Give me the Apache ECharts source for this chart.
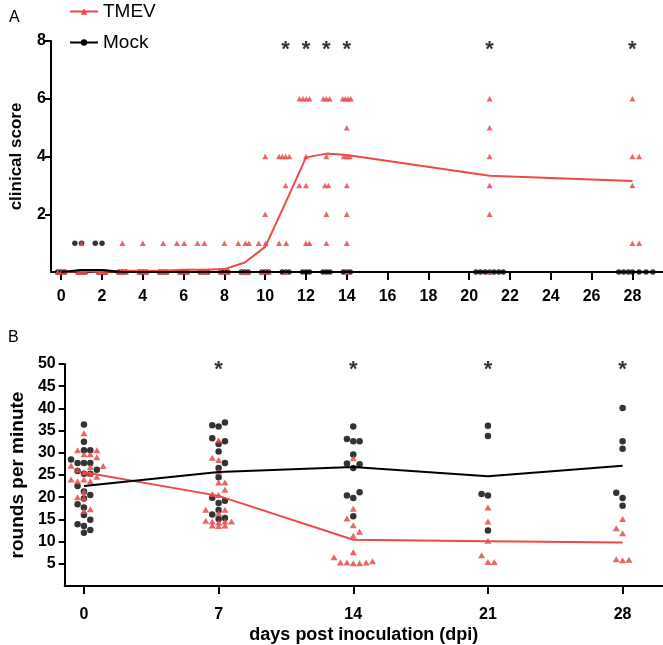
<!DOCTYPE html>
<html><head><meta charset="utf-8">
<script src="https://cdn.jsdelivr.net/npm/echarts@6/dist/echarts.min.js"></script>
<style>html,body{margin:0;padding:0;background:#fff}#c{width:663px;height:645px}</style>
</head><body><div id="c"></div>
<script>
// ---------- Panel A: clinical score ----------
const clinicalDays = [0,1,2,3,4,5,6,7,8,9,10,11,12,13,14,21,28];
const tmevClinicalMean = [0,0.03,0,0.04,0.04,0.04,0.08,0.08,0.1,0.33,0.87,2.4,3.97,4.1,4.05,3.33,3.15];
const mockClinicalMean = [0,0.07,0.07,0,0,0,0,0,0,0,0,0,0,0,0,0,0];
const clinicalTicksX = [0,2,4,6,8,10,12,14,16,18,20,22,24,26,28];
const clinicalTicksY = [2,4,6,8];
const clinicalSigDays = [11,12,13,14,21,28];
const tmevClinicalPoints = [
  [-0.17,0],[0,0],[0.17,0],[0.83,0],[1,0],[1.17,0],[1.83,0],[2,0],[2.17,0],[2.83,0],[3,0],[3.17,0],
  [3.83,0],[4,0],[4.17,0],[4.83,0],[5,0],[5.17,0],[5.83,0],[6,0],[6.17,0],[6.83,0],[7,0],[7.17,0],
  [7.83,0],[8,0],[8.17,0],[8.83,0],[9,0],[9.17,0],[9.83,0],[10,0],[10.17,0],[11,0],[14,0],[21,0],
  [1,1],[3,1],[4,1],[5,1],[5.67,1],[6.03,1],[6.68,1],[7.02,1],[8,1],[8.68,1],[9.03,1],[9.2,1],[9.68,1],
  [10.02,1],[10.68,1],[11.03,1],[12,1],[12.17,1],[13,1],[14,1],[28,1],[28.33,1],
  [10,2],[13,2],[14,2],[21,2],
  [11,3],[11.67,3],[12,3],[12.93,3],[13.1,3],[14,3],[21,3],[28,3],
  [10,4],[10.68,4],[10.84,4],[11,4],[11.18,4],[12,4],[13,4],[13.85,4],[14,4],[14.15,4],[21,4],[28,4],[28.33,4],
  [14,5],[21,5],
  [11.68,6],[11.85,6],[12.01,6],[12.17,6],[12.85,6],[13,6],[13.16,6],[13.8,6],[13.93,6],[14.07,6],[14.2,6],[21,6],[28,6]
];
const mockClinicalPoints = [
  [-0.17,0],[0,0],[0.17,0],[0.83,0],[1,0],[1.17,0],[1.83,0],[2,0],[2.17,0],[2.83,0],[3,0],[3.17,0],
  [3.83,0],[4,0],[4.17,0],[4.83,0],[5,0],[5.17,0],[5.83,0],[6,0],[6.17,0],[6.83,0],[7,0],[7.17,0],
  [7.83,0],[8,0],[8.17,0],[8.83,0],[9,0],[9.17,0],[9.83,0],[10,0],[10.17,0],[10.83,0],[11,0],[11.17,0],
  [11.83,0],[12,0],[12.17,0],[12.83,0],[13,0],[13.17,0],[13.83,0],[14,0],[14.17,0],
  [20.33,0],[20.55,0],[20.78,0],[21,0],[21.22,0],[21.45,0],[21.67,0],
  [27.33,0],[27.57,0],[27.8,0],[28,0],[28.33,0],[28.67,0],[29,0],
  [0.67,1],[1,1],[1.67,1],[2,1]
];

// ---------- Panel B: rounds per minute ----------
const rotarodDays = [0,7,14,21,28];
const tmevRotarodMean = [25.6,20.3,10.4,10.1,9.8];
const mockRotarodMean = [22.5,25.7,26.8,24.7,27.1];
const rotarodTicksY = [5,10,15,20,25,30,35,40,45,50];
const rotarodSigDays = [7,14,21,28];
const tmevRotarodPoints = [
  [0,34.4],[-0.33,30.6],[0.67,30.6],[0,29.7],[0.33,29.7],[0.67,29.0],[-0.67,27.1],[0.33,26.8],[1.0,27.0],
  [-0.33,26.2],[0,25.6],[0.33,25.2],[-0.67,24.0],[-0.33,23.6],[0,24.0],[0.33,23.6],[0.67,24.6],
  [-0.33,20.0],[0,21.3],[0,19.8],[0.33,17.3],[0,16.9],
  [7,32.8],[6.67,28.9],[7,28.4],[7,25.8],[7,23.3],[7.33,23.3],[7.33,21.7],[6.67,20.7],[7,20.5],
  [6.33,17.2],[7.33,17.2],[7,16.4],[6.33,14.7],[6.67,14.5],[7,14.3],[7.33,14.5],[7.67,14.5],
  [6.67,13.6],[7,13.5],[7.33,13.6],
  [14,28.8],[14,17.4],[13.67,15.2],[14,13.7],[14.33,12.2],[14,11.3],[14,7.6],[13,6.5],
  [13.33,5.3],[13.67,5.3],[14,5.1],[14.33,5.1],[14.67,5.3],[15,5.6],
  [21,17.7],[21,14.5],[21,10.2],[20.67,6.9],[21,5.4],[21.33,5.4],
  [28,15.1],[27.67,13.0],[28,11.9],[27.67,6.0],[28,5.8],[28.33,5.9]
];
const mockRotarodPoints = [
  [0,36.4],[0,32.5],[0,30.6],[0.33,30.6],[-0.67,28.5],[-0.33,27.7],[0,27.7],[0.33,27.7],[0.67,26.2],
  [-0.33,25.9],[0,25.3],[0.33,25.3],[-0.33,22.5],[0,21.3],[0,19.7],[0.33,20.5],[-0.33,18.4],[0,17.7],
  [0,16.0],[0.33,14.9],[-0.33,13.9],[0,13.5],[0.33,12.6],[0,12.0],
  [6.67,36.2],[7,35.9],[7.33,36.8],[6.67,33.3],[7,32.0],[7.33,32.6],[7,30.3],[7.33,27.7],[7,26.6],
  [7,24.5],[6.67,19.9],[7.33,19.2],[7,18.7],[7,17.1],[6.67,16.1],[7,15.1],[7.33,15.3],
  [14,35.9],[13.67,33.1],[14,32.6],[14.33,32.6],[14,29.6],[13.67,27.6],[14,26.6],[14.33,27.4],
  [13.67,20.4],[14,19.8],[14.33,21.1],[14,15.7],
  [21,36.1],[21,33.8],[20.67,20.7],[21,20.4],[21,12.5],
  [28,40.1],[28,32.6],[28,30.9],[27.67,21.0],[28,19.8],[28,18.1]
];

// ---------- styles ----------
const RED = '#f04848';
const PT_RED = '#e84a4f';
const FONT = '"Liberation Sans", Arial, sans-serif';
const axisLineStyle = {show:true, onZero:false, lineStyle:{color:'#000', width:2}};
const pair = (xs, ys) => xs.map((x, i) => [x, ys[i]]);

const chart = echarts.init(document.getElementById('c'), null, {renderer:'canvas'});
chart.setOption({
  animation: false,
  backgroundColor: '#fff',
  textStyle: {fontFamily: FONT, color: '#000'},
  legend: {
    orient: 'vertical', left: 64, top: -3, itemWidth: 28, itemHeight: 8, itemGap: 12,
    data: ['TMEV','Mock'],
    textStyle: {fontSize: 19, color: '#000', fontFamily: FONT}
  },
  graphic: [
    {type:'text', left: 9, top: 10, style:{text:'A', fontSize:16, fill:'#000', fontFamily:FONT}},
    {type:'text', left: 8, top: 330, style:{text:'B', fontSize:16, fill:'#000', fontFamily:FONT}}
  ],
  grid: [
    {left: 49, right: 0, top: 41, height: 231},
    {left: 49, right: 0, top: 364, height: 224}
  ],
  xAxis: [
    {type:'value', gridIndex:0, min:-0.5, max:29.5, axisLine: axisLineStyle, splitLine:{show:false},
     axisTick:{show:true, customValues: clinicalTicksX, length:8, lineStyle:{color:'#000', width:2}},
     axisLabel:{customValues: clinicalTicksX, fontSize:16, fontWeight:'bold', color:'#000', margin:17, fontFamily:FONT}},
    {type:'value', gridIndex:1, min:-1, max:30.1, axisLine: axisLineStyle, splitLine:{show:false},
     axisTick:{show:true, customValues: rotarodDays, length:8, lineStyle:{color:'#000', width:2}},
     axisLabel:{customValues: rotarodDays, fontSize:16, fontWeight:'bold', color:'#000', margin:21, fontFamily:FONT},
     name:'days post inoculation (dpi)', nameLocation:'middle', nameGap:40,
     nameTextStyle:{fontSize:18, fontWeight:'bold', color:'#000', fontFamily:FONT}}
  ],
  yAxis: [
    {type:'value', gridIndex:0, min:0, max:8, axisLine: axisLineStyle, splitLine:{show:false},
     axisTick:{show:true, customValues: clinicalTicksY, length:6, lineStyle:{color:'#000', width:2}},
     axisLabel:{customValues: clinicalTicksY, fontSize:16, fontWeight:'bold', color:'#000', margin:5, fontFamily:FONT},
     name:'clinical score', nameLocation:'middle', nameGap:26,
     nameTextStyle:{fontSize:17, fontWeight:'bold', color:'#000', fontFamily:FONT}},
    {type:'value', gridIndex:1, min:0, max:50, axisLine: axisLineStyle, splitLine:{show:false},
     axisTick:{show:true, customValues: rotarodTicksY, length:6, lineStyle:{color:'#000', width:2}},
     axisLabel:{customValues: rotarodTicksY, fontSize:16, fontWeight:'bold', color:'#000', margin:9, fontFamily:FONT},
     name:'rounds per minute', nameLocation:'middle', nameGap:33,
     nameTextStyle:{fontSize:19, fontWeight:'bold', color:'#000', fontFamily:FONT}}
  ],
  series: [
    {name:'TMEV', type:'line', xAxisIndex:0, yAxisIndex:0, data: pair(clinicalDays, tmevClinicalMean),
     showSymbol:false, symbol:'triangle', clip:false, z:4, itemStyle:{color:RED}, lineStyle:{color:RED, width:2}},
    {name:'Mock', type:'line', xAxisIndex:0, yAxisIndex:0, data: pair(clinicalDays, mockClinicalMean),
     showSymbol:false, symbol:'circle', clip:false, z:4, itemStyle:{color:'#000'}, lineStyle:{color:'#000', width:2}},
    {name:'TMEV', type:'line', xAxisIndex:1, yAxisIndex:1, data: pair(rotarodDays, tmevRotarodMean),
     showSymbol:false, symbol:'triangle', clip:false, z:4, itemStyle:{color:RED}, lineStyle:{color:RED, width:2}},
    {name:'Mock', type:'line', xAxisIndex:1, yAxisIndex:1, data: pair(rotarodDays, mockRotarodMean),
     showSymbol:false, symbol:'circle', clip:false, z:4, itemStyle:{color:'#000'}, lineStyle:{color:'#000', width:2}},
    {name:'Mock', type:'scatter', xAxisIndex:0, yAxisIndex:0, data: mockClinicalPoints, clip:false, z:2,
     symbol:'circle', symbolSize:5.5, itemStyle:{color:'#000'}},
    {name:'TMEV', type:'scatter', xAxisIndex:0, yAxisIndex:0, data: tmevClinicalPoints, clip:false, z:3,
     symbol:'triangle', symbolSize:[6,5.5], itemStyle:{color:PT_RED, opacity:0.85}},
    {name:'Mock', type:'scatter', xAxisIndex:1, yAxisIndex:1, data: mockRotarodPoints, clip:false, z:2,
     symbol:'circle', symbolSize:6.5, itemStyle:{color:'#000'}},
    {name:'TMEV', type:'scatter', xAxisIndex:1, yAxisIndex:1, data: tmevRotarodPoints, clip:false, z:3,
     symbol:'triangle', symbolSize:[7,6], itemStyle:{color:PT_RED, opacity:0.85}},
    {type:'scatter', xAxisIndex:0, yAxisIndex:0, data: clinicalSigDays.map(d => [d, 7.8]), z:5, silent:true,
     symbolSize:1, itemStyle:{color:'rgba(0,0,0,0)'},
     label:{show:true, position:'inside', formatter:'*', fontSize:22, fontWeight:'bold', color:'#000', offset:[0,3], fontFamily:FONT}},
    {type:'scatter', xAxisIndex:1, yAxisIndex:1, data: rotarodSigDays.map(d => [d, 49.6]), z:5, silent:true,
     symbolSize:1, itemStyle:{color:'rgba(0,0,0,0)'},
     label:{show:true, position:'inside', formatter:'*', fontSize:22, fontWeight:'bold', color:'#000', offset:[0,4], fontFamily:FONT}}
  ]
});
</script>
</body></html>
